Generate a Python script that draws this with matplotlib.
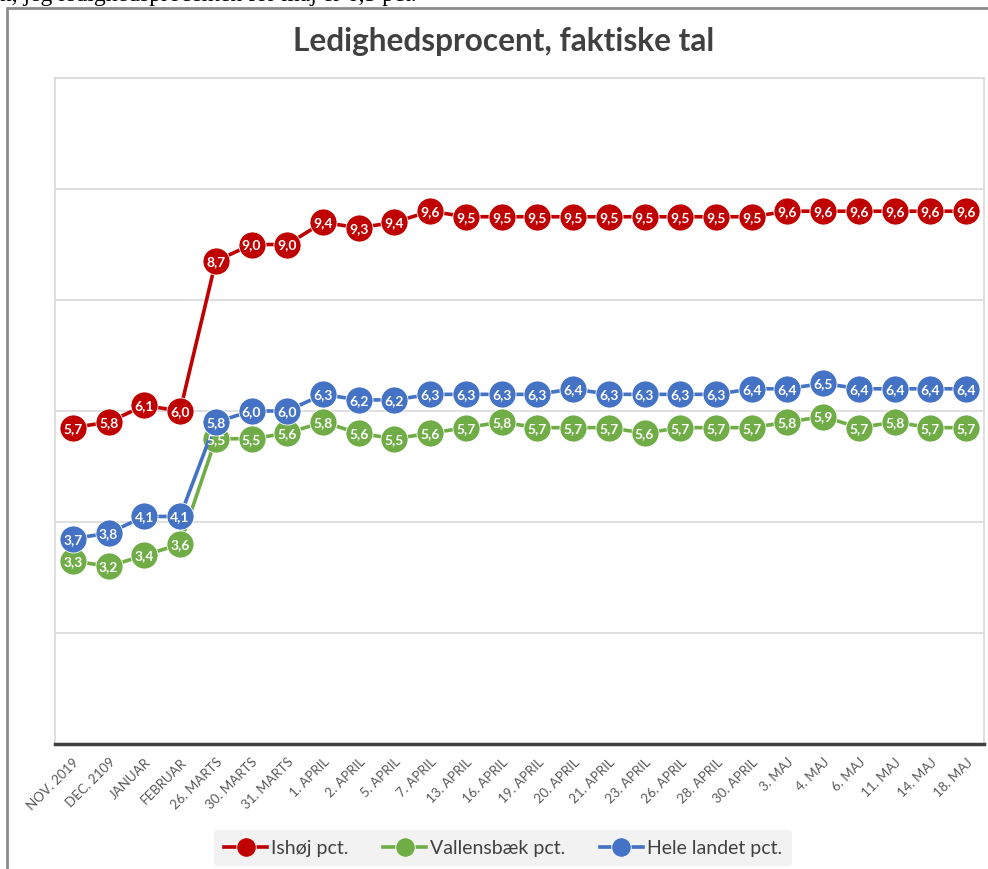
import matplotlib
matplotlib.use("Agg")
import matplotlib.pyplot as plt
from matplotlib.patches import Rectangle

plt.rcParams['font.family'] = ['Lato', 'DejaVu Sans']

# Data
categories = ['NOV. 2019', 'DEC. 2109', 'JANUAR', 'FEBRUAR', '26. MARTS', '30. MARTS',
              '31. MARTS', '1. APRIL', '2. APRIL', '5. APRIL', '7. APRIL', '13. APRIL',
              '16. APRIL', '19. APRIL', '20. APRIL', '21. APRIL', '23. APRIL', '26. APRIL',
              '28. APRIL', '30. APRIL', '3. MAJ', '4. MAJ', '6. MAJ', '11. MAJ',
              '14. MAJ', '18. MAJ']
ishoj = [5.7, 5.8, 6.1, 6.0, 8.7, 9.0, 9.0, 9.4, 9.3, 9.4, 9.6, 9.5, 9.5, 9.5,
         9.5, 9.5, 9.5, 9.5, 9.5, 9.5, 9.6, 9.6, 9.6, 9.6, 9.6, 9.6]
vallensbaek = [3.3, 3.2, 3.4, 3.6, 5.5, 5.5, 5.6, 5.8, 5.6, 5.5, 5.6, 5.7, 5.8, 5.7,
               5.7, 5.7, 5.6, 5.7, 5.7, 5.7, 5.8, 5.9, 5.7, 5.8, 5.7, 5.7]
hele_landet = [3.7, 3.8, 4.1, 4.1, 5.8, 6.0, 6.0, 6.3, 6.2, 6.2, 6.3, 6.3, 6.3, 6.3,
               6.4, 6.3, 6.3, 6.3, 6.3, 6.4, 6.4, 6.5, 6.4, 6.4, 6.4, 6.4]
series = [('Ishøj pct.', ishoj, '#C00000'),
          ('Vallensbæk pct.', vallensbaek, '#70AD47'),
          ('Hele landet pct.', hele_landet, '#4472C4')]

fig = plt.figure(figsize=(9.88, 8.70), dpi=100)

# outer frame of the chart object
fig.patches.append(Rectangle((7 / 988, -0.01), 1.0, (861 / 870) + 0.01,
                             transform=fig.transFigure, fill=False,
                             edgecolor='#8C8C8C', linewidth=2))
# line of document text above the chart, mostly cut off
fig.text(0.0, 1 - 1.5 / 870, "n, jeg ledighedsprocenten for maj er 6,5 pct.",
         family='Liberation Serif', fontsize=17, va='baseline', ha='left', color='black')

ax = fig.add_axes([55 / 988, 125 / 870, 929 / 988, 666 / 870])
x = list(range(len(categories)))

for name, vals, col in series:
    ax.plot(x, vals, color=col, linewidth=2.6, marker='o', markersize=19.5,
            markeredgecolor='white', markeredgewidth=0.6, label=name, zorder=3)
    for xi, v in zip(x, vals):
        ax.text(xi, v, f"{v:.1f}".replace('.', ','), color='white', fontsize=10,
                fontweight='bold', ha='center', va='center', zorder=4)

ax.set_xlim(-0.5, len(categories) - 0.5)
ax.set_ylim(0, 12)
ax.set_yticks([2, 4, 6, 8, 10, 12])
ax.tick_params(axis='y', left=False, labelleft=False)
ax.yaxis.grid(True, color='#D9D9D9', linewidth=1.2)
ax.set_axisbelow(True)

ax.set_xticks(x)
ax.set_xticklabels(categories, rotation=45, ha='right', rotation_mode='anchor',
                   fontsize=9.5, color='#595959')
ax.tick_params(axis='x', length=0, pad=8)

for s in ['left', 'top', 'right']:
    ax.spines[s].set_color('#D9D9D9')
    ax.spines[s].set_linewidth(1.2)
ax.spines['bottom'].set_color('#404040')
ax.spines['bottom'].set_linewidth(2.5)

fig.text(504 / 988, 1 - 42 / 870, 'Ledighedsprocent, faktiske tal', ha='center',
         va='center', fontsize=22.8, fontweight='bold', color='#404040')

leg = fig.legend(loc='center', bbox_to_anchor=(503 / 988, 1 - 849 / 870), ncol=3,
                 frameon=True, fontsize=14, markerscale=0.72, handlelength=2.2,
                 handletextpad=0.2, columnspacing=1.8, borderpad=0.5)
leg.get_frame().set_facecolor('#F2F2F2')
leg.get_frame().set_edgecolor('none')
leg.get_frame().set_alpha(1)
for t in leg.get_texts():
    t.set_color('#404040')

fig.savefig('out.png', dpi=100)
